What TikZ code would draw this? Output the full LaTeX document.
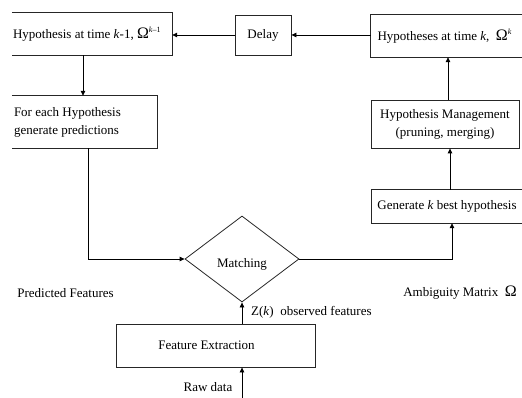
\documentclass[tikz,border=0pt]{standalone}
\usepackage{fontspec}
\setmainfont{Liberation Serif}
\usetikzlibrary{arrows.meta,shapes.geometric}
\begin{document}
\begin{tikzpicture}[x=1pt,y=-1pt,
  every node/.style={font=\fontsize{13}{18}\selectfont, inner sep=0pt},
  box/.style={minimum width=#1, inner sep=0pt},
  ln/.style={line width=0.8pt, draw=black!85},
  arr/.style={line width=0.8pt, -{Triangle[length=5pt,width=4.5pt]}}]
\useasboundingbox (0,0) rectangle (522,398);
\newcommand{\BigOm}[1]{{\fontsize{16}{16}\selectfont Ω\raisebox{6.5pt}{\fontsize{8}{8}\selectfont #1}}}

% boxes
\node[box=160, minimum height=42] (prev) at (92,34)
  {\makebox[158pt][l]{\hspace*{0pt}Hypothesis at time \textit{k}-1,~\BigOm{\textit{k}–1}}};
\node[box=56, minimum height=40, draw, ln] (delay) at (263,35) {Delay};
\node[box=151, minimum height=42] (cur) at (446.5,36)
  {\makebox[148pt][l]{\hspace*{5pt}Hypotheses at time \textit{k},~~\BigOm{\textit{k}}}};
\node[box=145, minimum height=52] (pred) at (84.5,122)
  {\raisebox{-4pt}{\parbox{143pt}{\hspace*{1pt}For each Hypothesis\\\hspace*{1pt}generate predictions}}};
\node[box=148, minimum height=48, draw, ln, align=center] (mgmt) at (445,124)
  {Hypothesis Management\\(pruning, merging)};
\node[box=150, minimum height=33, align=center] (gen) at (447,206.5)
  {Generate \textit{k} best hypothesis};
\node[diamond, draw, ln, minimum width=114, minimum height=86, inner sep=0pt,
  text height=16pt, text depth=0pt] (match) at (242,259) {Matching};
\node[box=199, minimum height=43, draw, ln] (feat) at (215.5,345.5)
  {\hspace*{-18pt}Feature Extraction};

% open (cropped) box outlines
\draw[ln] (prev.north west) -- (prev.north east) -- (prev.south east) -- (prev.south west);
\draw[ln] (pred.north west) -- (pred.north east) -- (pred.south east) -- (pred.south west);
\draw[ln] (cur.north east) -- (cur.north west) -- (cur.south west) -- (cur.south east);
\draw[ln] (gen.north east) -- (gen.north west) -- (gen.south west) -- (gen.south east);

% free labels
\node (plabel) at (65.5,293) {Predicted Features};
\node (alabel) at (460,293) {Ambiguity Matrix~~\BigOm{}};
\node[anchor=west] (zlabel) at (251,312) {Z(\textit{k})~~observed features};
\node (rlabel) at (208,387) {Raw data};
\coordinate (raw) at (242,398);

% connectors
\draw[arr] (cur.west |- delay.east) -- (delay.east);
\draw[arr] (delay.west) -- (delay.west -| prev.east);
\draw[arr] ([xshift=-9pt]prev.south) -- ([xshift=-9pt]prev.south |- pred.north);
\draw[arr] ([xshift=3.5pt]pred.south) |- (match.west);
\draw[arr] (match.east) -| ([xshift=5pt]gen.south);
\draw[arr] ([xshift=3pt]gen.north) -- ([xshift=3pt]gen.north |- mgmt.south);
\draw[arr] ([xshift=3pt]mgmt.north) -- ([xshift=3pt]mgmt.north |- cur.south);
\draw[arr] (feat.north -| match.south) -- (match.south);
\draw[arr] (raw) -- (raw |- feat.south);
\end{tikzpicture}
\end{document}
